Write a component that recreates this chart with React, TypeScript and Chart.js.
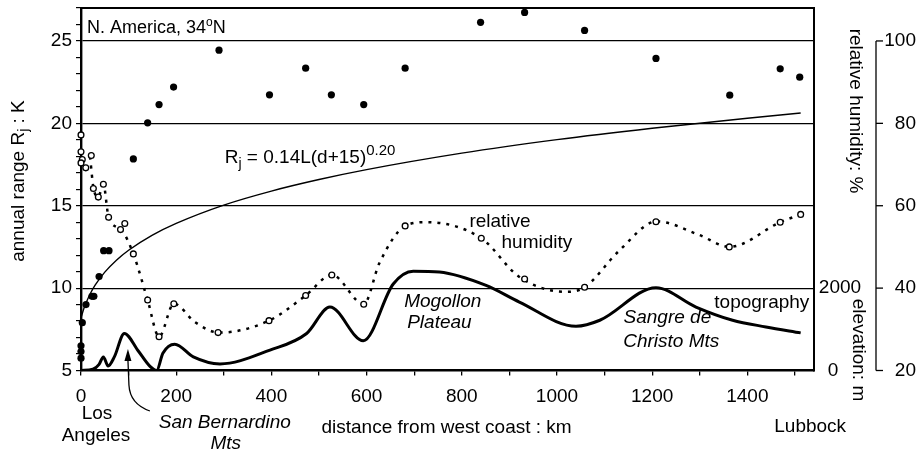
import React, { useEffect, useRef } from 'react';
import { Chart, registerables } from 'chart.js';

Chart.register(...registerables);

const FONT = '"Liberation Sans", Arial, Helvetica, sans-serif';

// annual range of temperature (filled dots): distance km, range K
const rangeKm = [0, 0, 0, 2.7, 10.5, 23, 27, 38, 47.6, 58.8, 110, 140, 164, 194.5, 290, 396, 472, 526, 594, 681, 839.5, 932, 1058, 1208, 1363, 1469, 1510];
const rangeK = [5.75, 6.15, 6.5, 7.9, 9.0, 9.5, 9.5, 10.7, 12.27, 12.27, 17.84, 20.03, 21.14, 22.2, 24.44, 21.73, 23.35, 21.73, 21.14, 23.35, 26.13, 26.73, 25.64, 23.94, 21.71, 23.31, 22.8];

// relative humidity (open circles): distance km, humidity %
const humKm = [0, 0, 2.7, 0, 10, 21.6, 26, 36.4, 47, 58, 83, 92, 110, 140, 164, 195, 288, 395, 472, 527, 594, 681, 841, 932, 1058, 1208, 1362, 1469, 1512];
const humPct = [77.2, 73.1, 71.2, 70.4, 69.2, 72.2, 64.2, 62.1, 65.2, 57.2, 54.2, 55.7, 48.3, 37.1, 28.2, 36.2, 29.2, 32.1, 38.2, 43.2, 36.1, 55.1, 52.1, 42.2, 40.2, 56.1, 50.0, 56.0, 57.9];

// relative humidity smoothed (dotted line)
const humLineKm = [19, 26, 36, 47, 58, 85, 110, 140, 164, 195, 240, 290, 395, 472, 527, 594, 627, 681, 725, 841, 921, 1019, 1058, 1130, 1210, 1299, 1362, 1469, 1512];
const humLinePct = [71.9, 64.5, 62.1, 65.2, 57.2, 54.1, 48.3, 37.1, 28.2, 36.2, 31.7, 29.2, 32.1, 38.2, 43.2, 36.1, 46.1, 55.1, 56.0, 52.1, 42.7, 39.1, 40.2, 49.0, 56.2, 52.9, 50.0, 56.0, 57.9];

// topography: distance km, elevation m
const topoKm = [0, 25, 38, 47, 57, 70, 91, 120, 145, 159, 172, 197, 236, 292, 397, 474, 523, 593, 656, 698, 753, 851, 921, 1040, 1090, 1208, 1292, 1369, 1439, 1512];
const topoM = [0, 30, 150, 330, 110, 330, 900, 480, 100, 0, 420, 640, 330, 160, 495, 898, 1540, 720, 2100, 2410, 2390, 2065, 1662, 1075, 1220, 2010, 1541, 1220, 1058, 913];

// fitted curve R_j = 0.14L(d+15)^0.20
const fitKm = [0, 5, 10, 20, 30, 50, 75, 100, 150, 200, 300, 400, 500, 600, 800, 1000, 1200, 1400, 1512];
const fitK = [8.18, 8.67, 9.06, 9.69, 10.19, 10.97, 11.71, 12.3, 13.22, 13.93, 15.04, 15.89, 16.59, 17.19, 18.19, 19.01, 19.7, 20.31, 20.63];

// axis ticks
const xTicks = [0, 100, 200, 300, 400, 500, 600, 700, 800, 900, 1000, 1100, 1200, 1300, 1400, 1500];
const xTickLabels = [0, 200, 400, 600, 800, 1000, 1200, 1400];
const yTicks = [5, 6, 7, 8, 9, 10, 11, 12, 13, 14, 15, 16, 17, 18, 19, 20, 21, 22, 23, 24, 25, 26, 27];
const yTickLabels = [5, 10, 15, 20, 25];
const humTicks = [20, 40, 60, 80, 100];
const elevTicks = [0, 2000];

type Part = [string, number, number, string?];

function rich(ctx: CanvasRenderingContext2D, parts: Part[], x: number, y: number, align: 'left' | 'center' | 'right') {
  let w = 0;
  const ws: number[] = [];
  for (const p of parts) {
    ctx.font = `${p[3] || ''} ${p[1]}px ${FONT}`;
    const m = ctx.measureText(p[0]).width;
    ws.push(m);
    w += m;
  }
  let cx = align === 'center' ? x - w / 2 : align === 'right' ? x - w : x;
  ctx.textAlign = 'left';
  parts.forEach((p, i) => {
    ctx.font = `${p[3] || ''} ${p[1]}px ${FONT}`;
    ctx.fillText(p[0], cx, y + p[2]);
    cx += ws[i];
  });
}

const noPad = (s: any) => {
  s.paddingTop = 0;
  s.paddingBottom = 0;
  s.paddingLeft = 0;
  s.paddingRight = 0;
};

const decor = {
  id: 'decor',
  afterDraw(chart: any) {
    const { ctx, chartArea: a, scales } = chart;
    const x = scales.x, y = scales.y, yH = scales.yH, yE = scales.yE;
    ctx.save();
    ctx.fillStyle = '#000';
    ctx.strokeStyle = '#000';
    // top and right frame
    ctx.lineWidth = 2;
    ctx.beginPath();
    ctx.moveTo(a.left - 1, a.top);
    ctx.lineTo(a.right, a.top);
    ctx.lineTo(a.right, a.bottom + 1);
    ctx.stroke();

    ctx.textBaseline = 'alphabetic';
    // title in box
    rich(ctx, [['N. America, 34', 18, 0], ['o', 12, -7], ['N', 18, 0]], a.left + 6, a.top + 25, 'left');
    // equation
    rich(ctx, [['R', 19, 0], ['j', 14, 5], [' = 0.14L(d+15)', 19, 0], ['0.20', 15, -8]], x.getPixelForValue(302), y.getPixelForValue(17.6), 'left');

    ctx.textBaseline = 'middle';
    const t = (s: string, km: number, k: number, align: 'left' | 'center', style = '') => {
      rich(ctx, [[s, 19, 0, style]], x.getPixelForValue(km), y.getPixelForValue(k), align);
    };
    t('relative', 816, 14.01, 'left');
    t('humidity', 883.5, 12.74, 'left');
    t('Mogollon', 760, 9.16, 'center', 'italic');
    t('Plateau', 753, 7.88, 'center', 'italic');
    t('Sangre de', 1232, 8.19, 'center', 'italic');
    t('Christo Mts', 1240, 6.73, 'center', 'italic');
    t('topography', 1330.5, 9.1, 'left');

    // below axis
    const b = (s: string, km: number, py: number, style = '') => {
      rich(ctx, [[s, 19, 0, style]], x.getPixelForValue(km), py, 'center');
    };
    b('Los', 33.6, 414);
    b('Angeles', 31.5, 436);
    b('San Bernardino', 302, 423, 'italic');
    b('Mts', 304, 444, 'italic');
    b('distance from west coast : km', 768, 428);
    b('Lubbock', 1532, 427);

    // arrow to San Bernardino Mts
    const ax = x.getPixelForValue(98.6);
    ctx.lineWidth = 1.3;
    ctx.beginPath();
    ctx.moveTo(ax + 22, 411);
    ctx.quadraticCurveTo(ax + 2, 404, ax + 1, 385);
    ctx.lineTo(ax, 360);
    ctx.stroke();
    ctx.beginPath();
    ctx.moveTo(ax, 349);
    ctx.lineTo(ax - 3.5, 361);
    ctx.lineTo(ax + 3.5, 361);
    ctx.closePath();
    ctx.fill();

    // elevation tick labels
    for (const v of elevTicks) {
      rich(ctx, [[String(v), 19, 0]], a.right + (v === 0 ? 19 : 26), yE.getPixelForValue(v), 'center');
    }

    // left axis title
    ctx.save();
    ctx.translate(19, 181);
    ctx.rotate(-Math.PI / 2);
    rich(ctx, [['annual range R', 19, 0], ['j', 14, 5], [' : K', 19, 0]], 0, 0, 'center');
    ctx.restore();

    // right titles
    ctx.save();
    ctx.translate(855.5, 111);
    ctx.rotate(Math.PI / 2);
    rich(ctx, [['relative humidity: %', 19, 0]], 0, 0, 'center');
    ctx.restore();
    ctx.save();
    ctx.translate(858, 350);
    ctx.rotate(Math.PI / 2);
    rich(ctx, [['elevation: m', 19, 0]], 0, 0, 'center');
    ctx.restore();

    // humidity axis
    const hx = a.right + 62;
    ctx.lineWidth = 1.3;
    ctx.beginPath();
    ctx.moveTo(hx, yH.getPixelForValue(humTicks[humTicks.length - 1]));
    ctx.lineTo(hx, yH.getPixelForValue(humTicks[0]));
    ctx.stroke();
    for (const v of humTicks) {
      const py = yH.getPixelForValue(v);
      ctx.beginPath();
      ctx.moveTo(hx, py);
      ctx.lineTo(hx + 7, py);
      ctx.stroke();
      rich(ctx, [[String(v), 19, 0]], 916, py, 'right');
    }
    ctx.restore();
  },
};

export default function App() {
  const ref = useRef<HTMLCanvasElement>(null);
  useEffect(() => {
    if (!ref.current) return;
    Chart.defaults.font.family = FONT;
    Chart.defaults.color = '#000';
    const chart = new Chart(ref.current, {
      type: 'scatter',
      data: {
        datasets: [
          {
            type: 'line',
            data: topoKm.map((k, i) => ({ x: k, y: topoM[i] })),
            yAxisID: 'yE',
            borderColor: '#000',
            borderWidth: 3,
            pointRadius: 0,
            cubicInterpolationMode: 'monotone',
            order: 5,
          },
          {
            type: 'line',
            data: fitKm.map((k, i) => ({ x: k, y: fitK[i] })),
            yAxisID: 'y',
            borderColor: '#000',
            borderWidth: 1.4,
            pointRadius: 0,
            cubicInterpolationMode: 'monotone',
            order: 4,
          },
          {
            type: 'line',
            data: humLineKm.map((k, i) => ({ x: k, y: humLinePct[i] })),
            yAxisID: 'yH',
            borderColor: '#000',
            borderWidth: 2.5,
            borderDash: [3, 6],
            pointRadius: 0,
            cubicInterpolationMode: 'monotone',
            order: 3,
          },
          {
            data: rangeKm.map((k, i) => ({ x: k, y: rangeK[i] })),
            yAxisID: 'y',
            pointRadius: 3.6,
            pointBackgroundColor: '#000',
            pointBorderColor: '#000',
            pointBorderWidth: 0,
            clip: false,
            order: 2,
          },
          {
            data: humKm.map((k, i) => ({ x: k, y: humPct[i] })),
            yAxisID: 'yH',
            pointRadius: 2.9,
            pointBackgroundColor: '#fff',
            pointBorderColor: '#000',
            pointBorderWidth: 1.3,
            clip: false,
            order: 1,
          },
        ] as any,
      },
      options: {
        animation: false,
        responsive: false,
        events: [],
        layout: { padding: { top: 8, left: 0, right: 104, bottom: 0 } },
        plugins: { legend: { display: false }, tooltip: { enabled: false } },
        scales: {
          x: {
            type: 'linear',
            min: 0,
            max: 1540,
            bounds: 'data',
            afterFit: (s: any) => { s.height = 85.5; noPad(s); },
            afterBuildTicks: (s: any) => { s.ticks = xTicks.map((v) => ({ value: v })); },
            ticks: {
              autoSkip: false,
              maxRotation: 0,
              padding: 10,
              font: { size: 19 },
              color: '#000',
              callback: (v: any) => (xTickLabels.includes(v) ? String(v) : ''),
            },
            grid: { drawOnChartArea: false, tickLength: 5, color: '#000', lineWidth: 1.3 },
            border: { display: true, color: '#000', width: 2.4 },
          },
          y: {
            type: 'linear',
            position: 'left',
            min: 5,
            max: 27,
            bounds: 'data',
            afterFit: (s: any) => { s.width = 81; noPad(s); },
            afterBuildTicks: (s: any) => { s.ticks = yTicks.map((v) => ({ value: v })); },
            ticks: {
              autoSkip: false,
              padding: 4,
              font: { size: 19 },
              color: '#000',
              callback: (v: any) => (yTickLabels.includes(v) ? String(v) : ''),
            },
            grid: {
              tickLength: 5,
              lineWidth: 1.2,
              tickColor: '#000',
              color: (c: any) => (c.tick && c.tick.value % 5 === 0 && c.tick.value > 5 ? '#000' : 'rgba(0,0,0,0)'),
            },
            border: { display: true, color: '#000', width: 2.4 },
          },
          yE: {
            type: 'linear',
            display: false,
            min: 0,
            max: 8800,
          },
          yH: {
            type: 'linear',
            display: false,
            min: 20,
            max: 108,
          },
        } as any,
      },
      plugins: [decor],
    });
    return () => chart.destroy();
  }, []);
  return (
    <div style={{ position: 'absolute', left: 0, top: 0, width: 918, height: 456, background: '#fff' }}>
      <canvas ref={ref} width={918} height={456} style={{ display: 'block' }} />
    </div>
  );
}
